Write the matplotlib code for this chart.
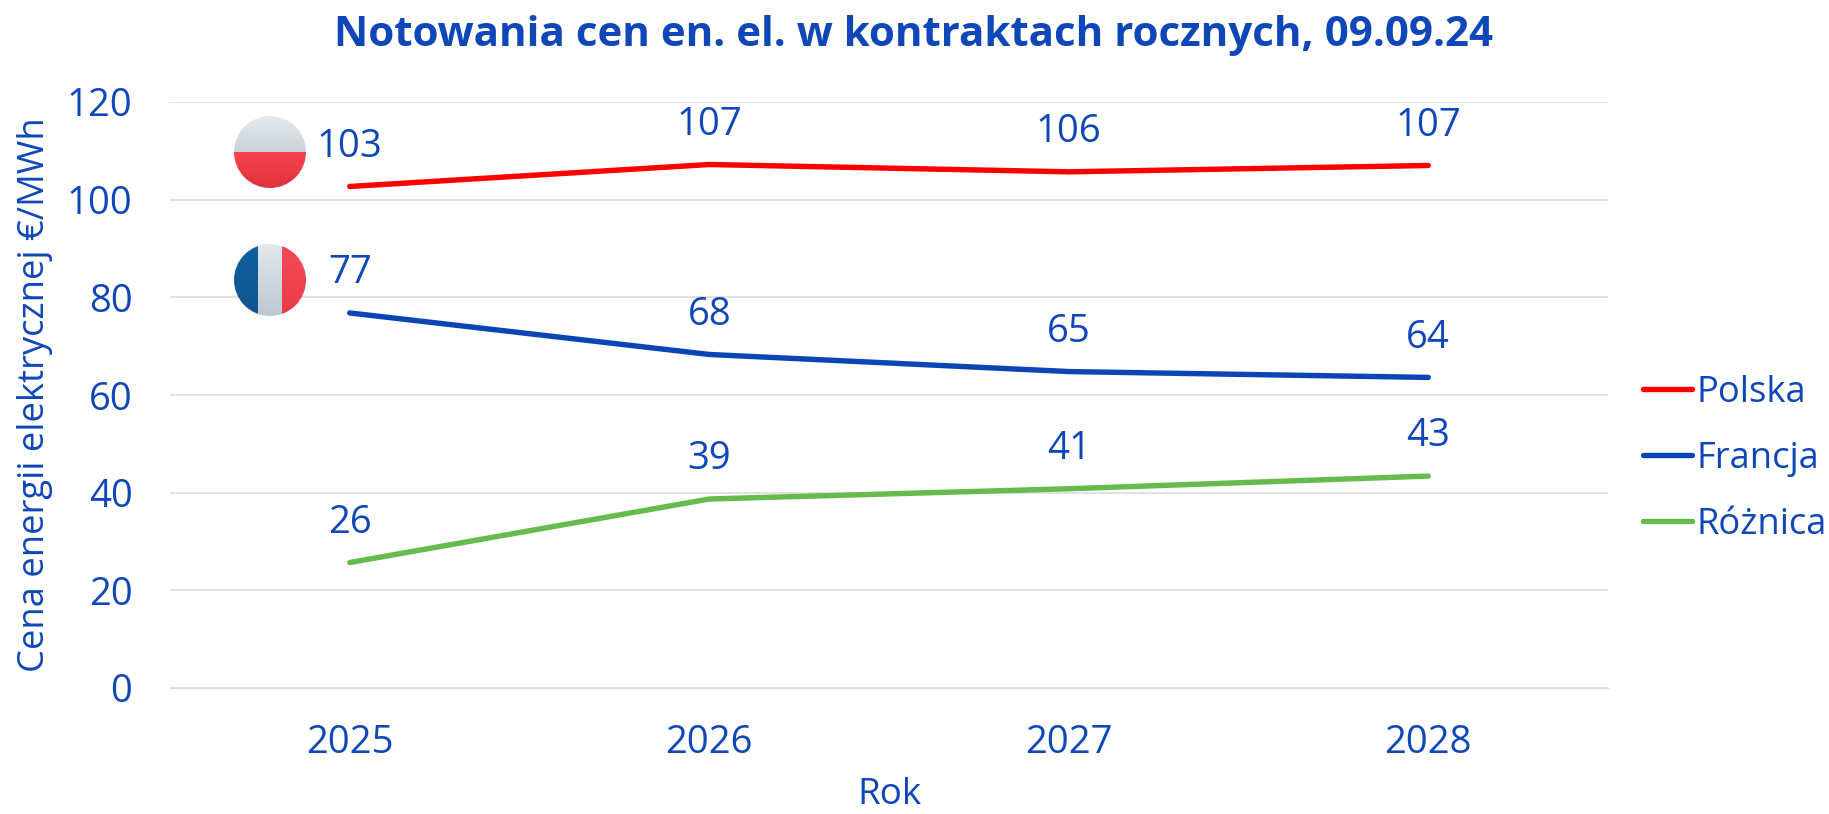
import numpy as np
import matplotlib
matplotlib.use("Agg")
import matplotlib.pyplot as plt
from matplotlib.patches import Circle
from matplotlib.colors import LinearSegmentedColormap

W, H = 1829, 814
years = ["2025", "2026", "2027", "2028"]
polska = [102.7, 107.2, 105.7, 107.0]
francja = [76.8, 68.3, 64.8, 63.6]
roznica = [25.7, 38.7, 40.8, 43.4]
labels_pl = ["103", "107", "106", "107"]
labels_fr = ["77", "68", "65", "64"]
labels_ro = ["26", "39", "41", "43"]
yticks = [0, 20, 40, 60, 80, 100, 120]
title = "Notowania cen en. el. w kontraktach rocznych, 09.09.24"
BLUE = "#0F47B8"
plt.rcParams["font.family"] = ["Open Sans", "DejaVu Sans"]

fig = plt.figure(figsize=(W / 100, H / 100), dpi=100)
ax = fig.add_axes([170 / W, 1 - 688 / H, (1608 - 170) / W, (688 - 102) / H])
x = np.arange(len(years))
series = [("Polska", polska, labels_pl, "#FF0000"),
          ("Francja", francja, labels_fr, "#0B45B5"),
          ("Różnica", roznica, labels_ro, "#66BB4C")]
for name, vals, labs, col in series:
    ax.plot(x, vals, color=col, lw=3.9, label=name, solid_capstyle="round", zorder=3)
    for xi, v, t in zip(x, vals, labs):
        ax.annotate(t, (xi, v), xytext=(0, 15), textcoords="offset points", ha="center",
                    va="bottom", color=BLUE, fontsize=27.5)
ax.set_xlim(-0.5, 3.5)
ax.set_ylim(0, 120)
ax.set_yticks(yticks)
ax.set_xticks(x, years)
ax.grid(axis="y", color="#D9D9D9", lw=1.1)
ax.set_axisbelow(True)
for s in ax.spines.values():
    s.set_visible(False)
ax.spines["bottom"].set_visible(True)
ax.spines["bottom"].set_color("#D9D9D9")
ax.tick_params(length=0, labelsize=27.5, labelcolor=BLUE)
ax.tick_params(axis="x", pad=26)
ax.tick_params(axis="y", pad=27)
fig.text(35 / W, 1 - 395 / H, "Cena energii elektrycznej €/MWh", rotation=90, ha="center",
         va="center", color=BLUE, fontsize=26.2)
fig.text(889 / W, 1 - 795 / H, "Rok", ha="center", va="center", color=BLUE, fontsize=26.5)
fig.text(913 / W, 1 - 36 / H, title, ha="center", va="center", color=BLUE, fontsize=30.3, fontweight="bold")
ax.legend(loc="center left", bbox_to_anchor=(1643 / W, 1 - 459 / H), bbox_transform=fig.transFigure,
          frameon=False, fontsize=26.2, labelcolor=BLUE, handlelength=1.35, handletextpad=0.12,
          labelspacing=0.82, borderpad=0, borderaxespad=0)

# flag badges, in pixel coordinates of the figure
ov = fig.add_axes([0, 0, 1, 1], zorder=5)
ov.set_xlim(0, W)
ov.set_ylim(H, 0)
ov.axis("off")
def flag(cx, cy, r, stripes, vertical):
    n = 200
    for i, (c0, c1, a, b) in enumerate(stripes):
        cm = LinearSegmentedColormap.from_list("g", [c0, c1])
        grad = np.linspace(0, 1, n).reshape(-1, 1)
        if vertical:
            ext = (cx - r + 2 * r * a, cx - r + 2 * r * b, cy + r, cy - r)
        else:
            ext = (cx - r, cx + r, cy - r + 2 * r * b, cy - r + 2 * r * a)
        im = ov.imshow(grad, cmap=cm, extent=ext, aspect="auto", origin="upper", zorder=6)
        im.set_clip_path(Circle((cx, cy), r, transform=ov.transData))
    ov.set_xlim(0, W)
    ov.set_ylim(H, 0)
flag(270, 152, 36, [("#E4EAEF", "#C8D2D9", 0, 0.5), ("#F8434F", "#DE323F", 0.5, 1)], False)
flag(270, 280, 36, [("#11609F", "#0F5590", 0, 0.33), ("#E2E8EE", "#BCC8D0", 0.33, 0.67), ("#F54B58", "#EA3B48", 0.67, 1)], True)
fig.savefig("out.png", dpi=100)
